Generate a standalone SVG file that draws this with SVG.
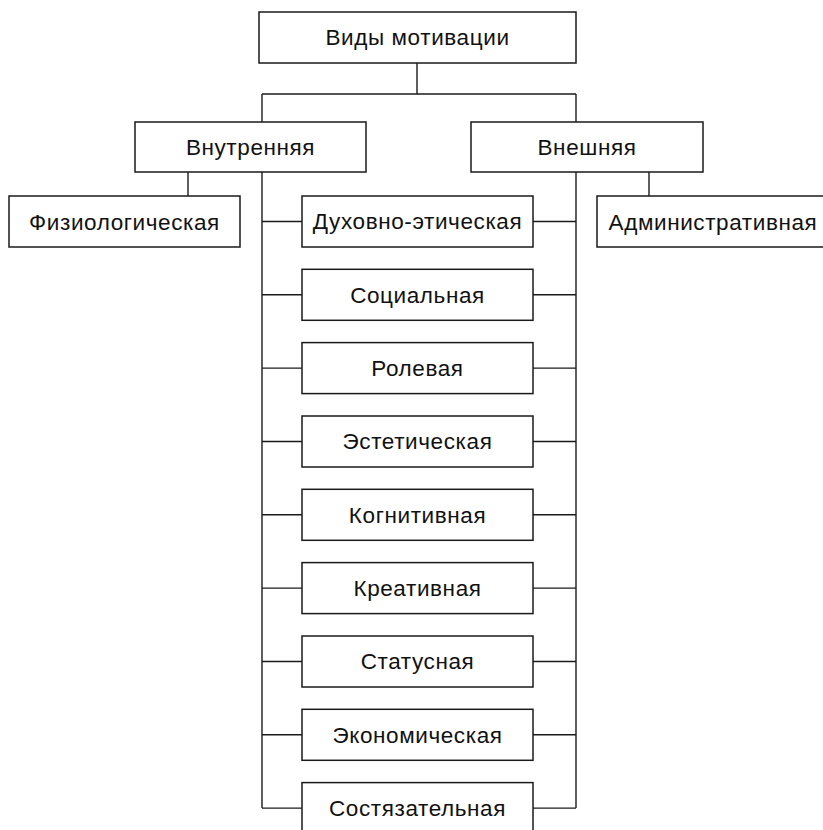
<svg xmlns="http://www.w3.org/2000/svg" width="823" height="830" viewBox="0 0 823 830">
<style>
rect{fill:#fff;stroke:#1a1a1a;stroke-width:1.5}
text{font-family:"Liberation Sans",Arial,sans-serif;font-size:22.5px;letter-spacing:0.6px;fill:#111;text-anchor:middle}
.c line{stroke:#1a1a1a;stroke-width:1.4}
</style>
<rect x="0" y="0" width="823" height="830" style="stroke:none"/>
<g class="c" id="connectors">
<line x1="417" y1="63" x2="417" y2="94"/>
<line x1="262" y1="94" x2="576" y2="94"/>
<line x1="262" y1="94" x2="262" y2="122"/>
<line x1="576" y1="94" x2="576" y2="122"/>
<line x1="188" y1="172" x2="188" y2="196"/>
<line x1="649" y1="172" x2="649" y2="196"/>
<line x1="262" y1="172" x2="262" y2="808"/>
<line x1="576" y1="172" x2="576" y2="808"/>
<line x1="262" y1="221.5" x2="302" y2="221.5"/><line x1="533" y1="221.5" x2="576" y2="221.5"/>
<line x1="262" y1="294.8" x2="302" y2="294.8"/><line x1="533" y1="294.8" x2="576" y2="294.8"/>
<line x1="262" y1="368.1" x2="302" y2="368.1"/><line x1="533" y1="368.1" x2="576" y2="368.1"/>
<line x1="262" y1="441.5" x2="302" y2="441.5"/><line x1="533" y1="441.5" x2="576" y2="441.5"/>
<line x1="262" y1="514.8" x2="302" y2="514.8"/><line x1="533" y1="514.8" x2="576" y2="514.8"/>
<line x1="262" y1="588.1" x2="302" y2="588.1"/><line x1="533" y1="588.1" x2="576" y2="588.1"/>
<line x1="262" y1="661.5" x2="302" y2="661.5"/><line x1="533" y1="661.5" x2="576" y2="661.5"/>
<line x1="262" y1="734.8" x2="302" y2="734.8"/><line x1="533" y1="734.8" x2="576" y2="734.8"/>
<line x1="262" y1="808.1" x2="302" y2="808.1"/><line x1="533" y1="808.1" x2="576" y2="808.1"/>
</g>
<g id="n-root"><rect x="259" y="12" width="317" height="51"/><text x="417.5" y="44.5">Виды мотивации</text></g>
<g id="n-inner"><rect x="135" y="122" width="231" height="50"/><text x="250.5" y="155">Внутренняя</text></g>
<g id="n-outer"><rect x="471" y="122" width="232" height="50"/><text x="587" y="155">Внешняя</text></g>
<g id="n-phys"><rect x="9" y="196" width="231" height="51"/><text x="124.5" y="229.5">Физиологическая</text></g>
<g id="n-admin"><rect x="597" y="196" width="232" height="51"/><text x="713" y="229.5">Административная</text></g>
<g id="n-1"><rect x="302" y="196" width="231" height="51"/><text x="417.5" y="229">Духовно-этическая</text></g>
<g id="n-2"><rect x="302" y="269.3" width="231" height="51"/><text x="417.5" y="302.5">Социальная</text></g>
<g id="n-3"><rect x="302" y="342.6" width="231" height="51"/><text x="417.5" y="375.8">Ролевая</text></g>
<g id="n-4"><rect x="302" y="416" width="231" height="51"/><text x="417.5" y="449.2">Эстетическая</text></g>
<g id="n-5"><rect x="302" y="489.3" width="231" height="51"/><text x="417.5" y="522.5">Когнитивная</text></g>
<g id="n-6"><rect x="302" y="562.6" width="231" height="51"/><text x="417.5" y="595.8">Креативная</text></g>
<g id="n-7"><rect x="302" y="636" width="231" height="51"/><text x="417.5" y="669.2">Статусная</text></g>
<g id="n-8"><rect x="302" y="709.3" width="231" height="51"/><text x="417.5" y="742.5">Экономическая</text></g>
<g id="n-9"><rect x="302" y="782.6" width="231" height="51"/><text x="417.5" y="815.8">Состязательная</text></g>
</svg>
